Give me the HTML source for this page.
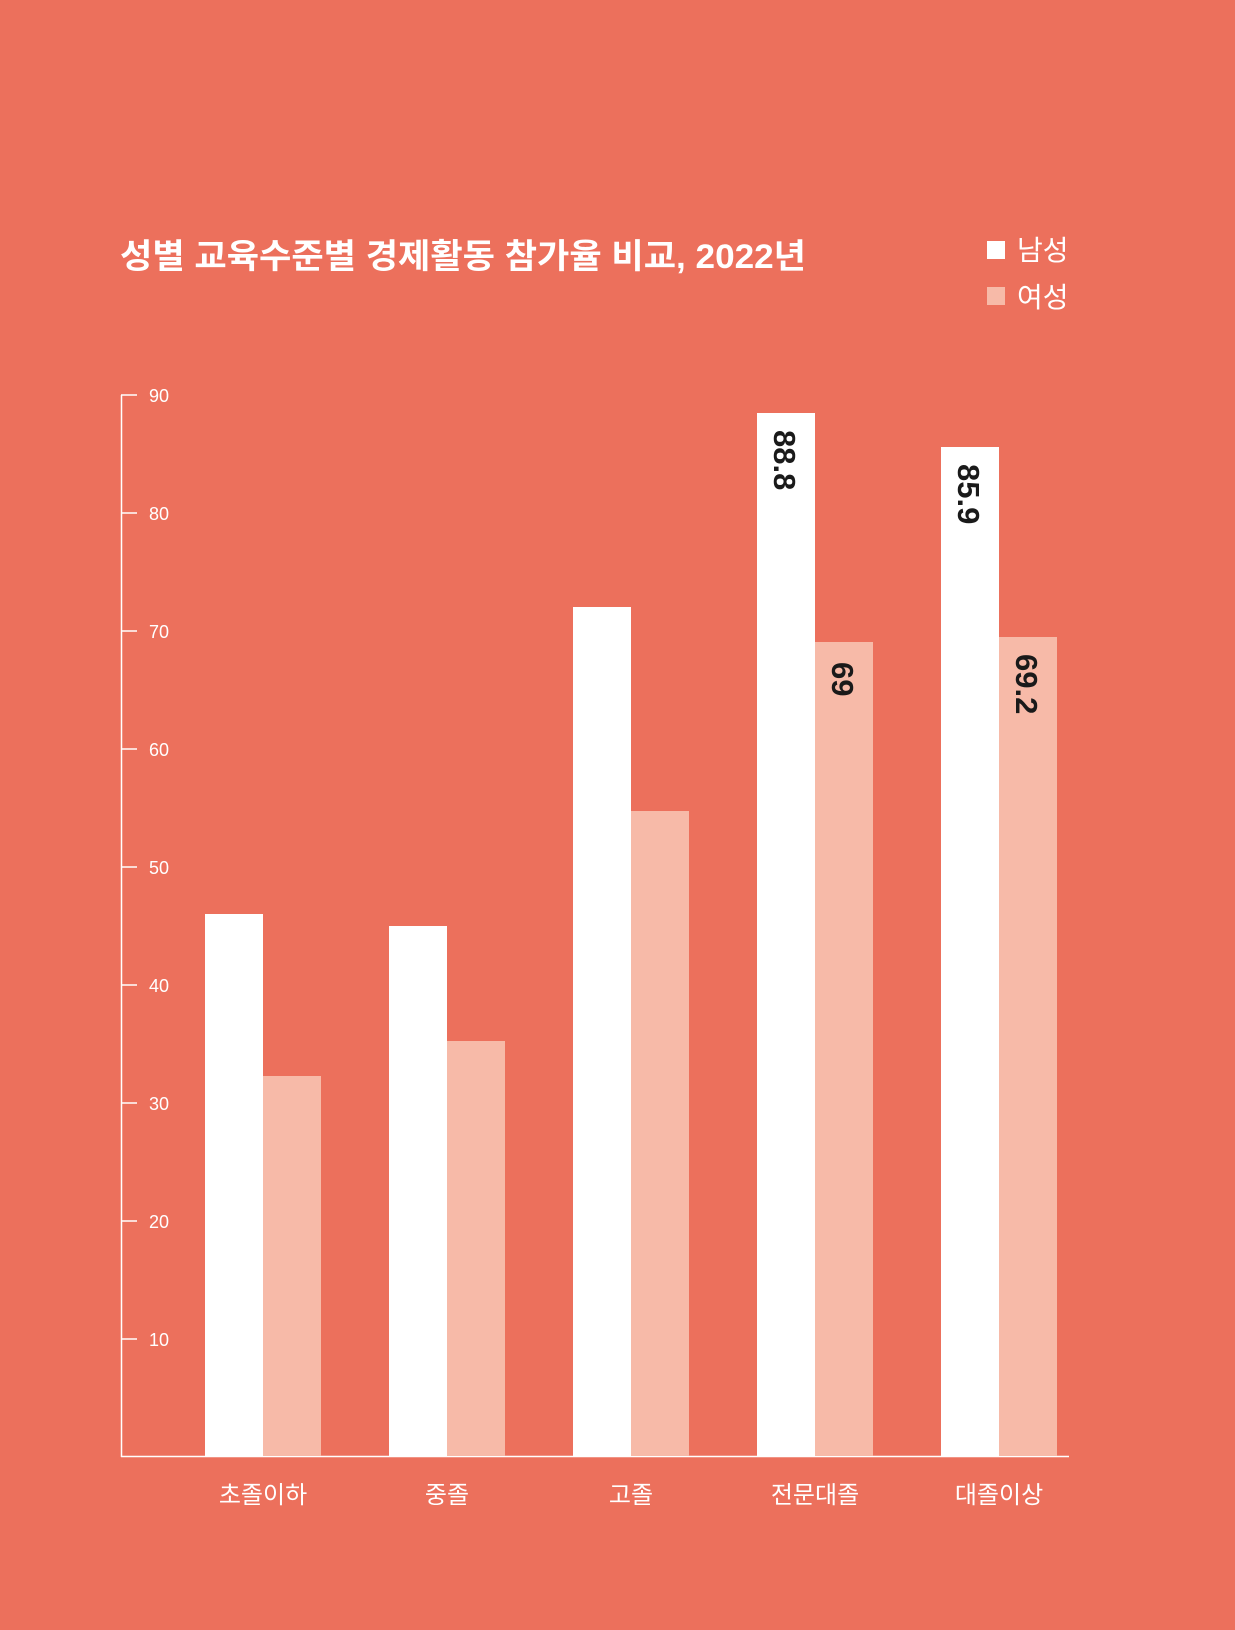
<!DOCTYPE html>
<html><head><meta charset="utf-8"><style>
body{margin:0;background:#EC705C;}
svg text{font-family:"Liberation Sans","Noto Sans CJK KR",sans-serif;}
</style></head><body>
<svg width="1235" height="1625" viewBox="0 0 1235 1625" xmlns="http://www.w3.org/2000/svg">
<rect width="1235" height="1625" fill="#EC705C"/>
<text x="120" y="268" font-size="34" font-weight="bold" fill="#fff" textLength="686" lengthAdjust="spacingAndGlyphs" font-family="'Noto Sans CJK KR',sans-serif">성별 교육수준별 경제활동 참가율 비교, 2022년</text>
<rect x="987" y="241" width="18" height="18" fill="#fff"/>
<text x="1017" y="260" font-size="28" fill="#fff">남성</text>
<rect x="987" y="287" width="18" height="18" fill="#F7BAA8"/>
<text x="1017" y="307" font-size="28" fill="#fff">여성</text>
<g fill="#fff" font-size="18">
<line x1="121.5" y1="395" x2="121.5" y2="1457" stroke="#fff" stroke-width="1.5"/>
<line x1="121" y1="1456.5" x2="1069" y2="1456.5" stroke="#fff" stroke-width="1.5"/>
<g stroke="#fff" stroke-width="1.5">
<line x1="121" y1="395" x2="137" y2="395"/><line x1="121" y1="513" x2="137" y2="513"/>
<line x1="121" y1="631" x2="137" y2="631"/><line x1="121" y1="749" x2="137" y2="749"/>
<line x1="121" y1="867" x2="137" y2="867"/><line x1="121" y1="985" x2="137" y2="985"/>
<line x1="121" y1="1103" x2="137" y2="1103"/><line x1="121" y1="1221" x2="137" y2="1221"/>
<line x1="121" y1="1339" x2="137" y2="1339"/>
</g>
<text x="149" y="402">90</text><text x="149" y="520">80</text><text x="149" y="638">70</text>
<text x="149" y="756">60</text><text x="149" y="874">50</text><text x="149" y="992">40</text>
<text x="149" y="1110">30</text><text x="149" y="1228">20</text><text x="149" y="1346">10</text>
</g>
<g fill="#fff">
<rect x="205" y="914" width="58" height="542"/>
<rect x="389" y="926" width="58" height="530"/>
<rect x="573" y="607" width="58" height="849"/>
<rect x="757" y="413" width="58" height="1043"/>
<rect x="941" y="447" width="58" height="1009"/>
</g>
<g fill="#F7BAA8">
<rect x="263" y="1076" width="58" height="380"/>
<rect x="447" y="1041" width="58" height="415"/>
<rect x="631" y="811" width="58" height="645"/>
<rect x="815" y="642" width="58" height="814"/>
<rect x="999" y="637" width="58" height="819"/>
</g>
<g font-size="31" font-weight="bold" fill="#1a1a1a">
<text transform="translate(774,430) rotate(90)">88.8</text>
<text transform="translate(832,662) rotate(90)">69</text>
<text transform="translate(958,464) rotate(90)">85.9</text>
<text transform="translate(1016,654) rotate(90)">69.2</text>
</g>
<g font-size="24" fill="#fff" text-anchor="middle">
<text x="263" y="1503">초졸이하</text>
<text x="447" y="1503">중졸</text>
<text x="631" y="1503">고졸</text>
<text x="815" y="1503">전문대졸</text>
<text x="999" y="1503">대졸이상</text>
</g>
</svg>
</body></html>
